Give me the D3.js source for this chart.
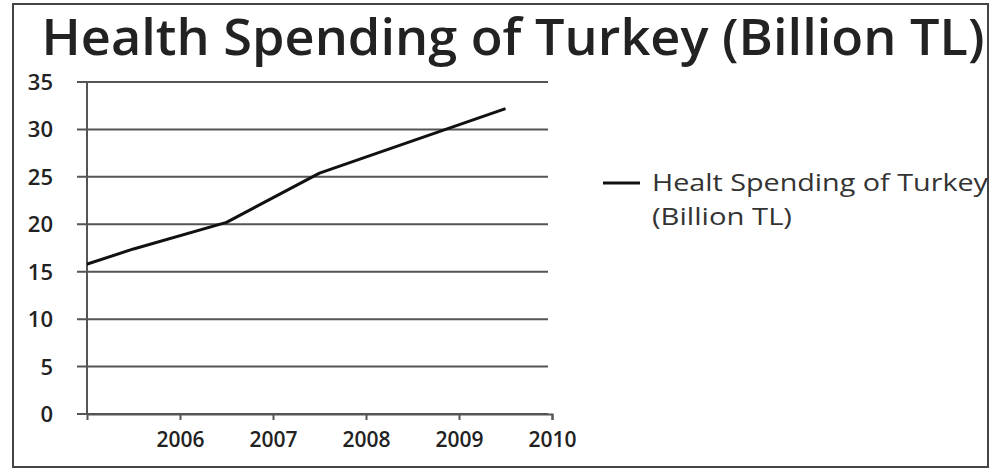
<!DOCTYPE html>
<html>
<head>
<meta charset="utf-8">
<script src="https://cdn.jsdelivr.net/npm/d3@7"></script>
<style>
  html, body { margin: 0; padding: 0; background: #fff; }
  svg text { font-family: "Open Sans", "Noto Sans", sans-serif; fill: #222; }
</style>
</head>
<body>
<div id="chart"></div>
<script>
// data
const years = [2005, 2006, 2007, 2008, 2009, 2010]
const spending = [14.2, 17.4, 20.2, 25.4, 28.8, 32.2]
const xTickLabels = [2006, 2007, 2008, 2009, 2010]
const yTicks = [0, 5, 10, 15, 20, 25, 30, 35]
const title = 'Health Spending of Turkey (Billion TL)'
const legendLines = ['Healt Spending of Turkey', '(Billion TL)']

const width = 994, height = 471
const margin = {top: 82, left: 87, right: 442, bottom: 57}

const svg = d3.select('#chart').append('svg')
  .attr('width', width)
  .attr('height', height)

// outer frame
svg.append('rect')
  .attr('x', 13).attr('y', 4)
  .attr('width', 975).attr('height', 463)
  .attr('fill', '#fff')
  .attr('stroke', '#444')
  .attr('stroke-width', 2)

svg.append('text')
  .attr('x', 513).attr('y', 55)
  .attr('text-anchor', 'middle')
  .attr('textLength', 943)
  .attr('lengthAdjust', 'spacingAndGlyphs')
  .style('font-size', '50px')
  .style('font-weight', 600)
  .text(title)

// categories sit half a step left of the printed labels
const x = d3.scaleLinear()
  .domain([2005.5, 2010.5])
  .range([margin.left, width - margin.right]) // 87 .. 552
const y = d3.scaleLinear()
  .domain([0, 35])
  .range([height - margin.bottom, margin.top])

const g = svg.append('g')

// horizontal grid + y ticks
g.selectAll('.grid')
  .data(yTicks)
  .enter().append('line')
  .attr('class', 'grid')
  .attr('x1', margin.left - 10)
  .attr('x2', x(2010.5) - 4)
  .attr('y1', d => y(d))
  .attr('y2', d => y(d))
  .attr('stroke', '#555')
  .attr('stroke-width', 2)

g.selectAll('.ylab')
  .data(yTicks)
  .enter().append('text')
  .attr('class', 'ylab')
  .attr('x', 53)
  .attr('y', d => y(d) + 8)
  .attr('text-anchor', 'end')
  .style('font-size', '22px')
  .style('font-weight', 600)
  .text(d => d)

// y axis line
g.append('line')
  .attr('x1', margin.left).attr('x2', margin.left)
  .attr('y1', y(35)).attr('y2', y(0))
  .attr('stroke', '#555')
  .attr('stroke-width', 2)

// x axis
const xAxis = d3.axisBottom(x)
  .tickValues(xTickLabels.map(d => d + 0.5))
  .tickFormat(d => Math.floor(d))
  .tickSize(6)
  .tickPadding(12)
const xg = g.append('g')
  .attr('transform', `translate(0, ${y(0)})`)
  .call(xAxis)
xg.select('.domain').attr('stroke', '#555').attr('stroke-width', 2)
xg.selectAll('.tick line').attr('stroke', '#555').attr('stroke-width', 2)
xg.selectAll('.tick text')
  .style('font-size', '21px')
  .style('font-weight', 600)
  .attr('fill', '#222')
  .style('font-family', '"Open Sans", sans-serif')

// line, clipped to the plot
svg.append('clipPath').attr('id', 'plotclip')
  .append('rect')
  .attr('x', margin.left).attr('y', 0)
  .attr('width', x(2010.5) - margin.left).attr('height', y(0))

const line = d3.line()
  .x((d, i) => x(years[i]))
  .y(d => y(d))

g.append('path')
  .datum(spending)
  .attr('clip-path', 'url(#plotclip)')
  .attr('d', line)
  .attr('fill', 'none')
  .attr('stroke', '#111')
  .attr('stroke-width', 3)
  .attr('stroke-linejoin', 'round')

// legend
const legend = svg.append('g').attr('transform', 'translate(603, 183)')
legend.append('line')
  .attr('x1', 0).attr('x2', 37)
  .attr('y1', 0).attr('y2', 0)
  .attr('stroke', '#111')
  .attr('stroke-width', 3)
legend.selectAll('text')
  .data(legendLines)
  .enter().append('text')
  .attr('x', 49)
  .attr('y', (d, i) => 8 + i * 34)
  .attr('textLength', (d, i) => i === 0 ? 336 : 140)
  .attr('lengthAdjust', 'spacingAndGlyphs')
  .style('font-size', '23px')
  .style('fill', '#333')
  .text(d => d)
</script>
</body>
</html>
